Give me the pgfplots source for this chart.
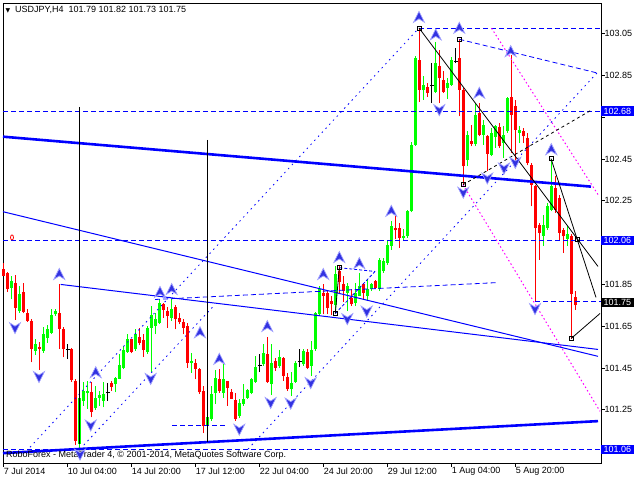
\documentclass[border=0pt]{standalone}
\usepackage{pgfplots}
\pgfplotsset{compat=1.18}
\usepackage{pgfplotstable}
\usepackage{fontspec}
\setmainfont{Liberation Sans}
\newfontfamily\dejavu{DejaVu Sans}
\definecolor{mtgreen}{RGB}{0,255,0}
\definecolor{mtred}{RGB}{255,0,0}
\definecolor{mtblue}{RGB}{0,0,255}
\definecolor{mtmag}{RGB}{255,0,255}
\definecolor{arrfill}{RGB}{50,50,225}
\definecolor{arrdraw}{RGB}{160,160,255}
\pgfdeclareplotmark{uparr}{%
 \pgfpathmoveto{\pgfqpoint{0pt}{6pt}}%
 \pgfpathlineto{\pgfqpoint{5.5pt}{-5pt}}%
 \pgfpathlineto{\pgfqpoint{0pt}{-1.5pt}}%
 \pgfpathlineto{\pgfqpoint{-5.5pt}{-5pt}}%
 \pgfpathclose\pgfusepathqfillstroke}
\pgfdeclareplotmark{dnarr}{%
 \pgfpathmoveto{\pgfqpoint{0pt}{-6pt}}%
 \pgfpathlineto{\pgfqpoint{5.5pt}{5pt}}%
 \pgfpathlineto{\pgfqpoint{0pt}{1.5pt}}%
 \pgfpathlineto{\pgfqpoint{-5.5pt}{5pt}}%
 \pgfpathclose\pgfusepathqfillstroke}

% red (bearish) candles: x low high close open
\pgfplotstableread{
x l h lo hi
0 101.890 101.954 101.890 101.922
1 101.814 101.910 101.830 101.906
3 101.680 101.893 101.739 101.858
5 101.712 101.858 101.718 101.814
6 101.671 101.731 101.675 101.712
7 101.477 101.683 101.540 101.675
9 101.442 101.575 101.540 101.553
14 101.540 101.850 101.639 101.712
15 101.501 101.644 101.540 101.636
17 101.385 101.548 101.394 101.543
18 101.082 101.397 101.103 101.388
22 101.214 101.381 101.241 101.334
27 101.340 101.388 101.361 101.377
32 101.520 101.590 101.527 101.587
34 101.559 101.643 101.571 101.600
35 101.505 101.611 101.536 101.583
40 101.691 101.762 101.727 101.754
41 101.643 101.743 101.699 101.723
43 101.635 101.750 101.683 101.743
44 101.659 101.715 101.670 101.691
45 101.611 101.683 101.643 101.670
46 101.452 101.664 101.476 101.651
48 101.396 101.492 101.447 101.473
49 101.325 101.452 101.333 101.444
50 101.138 101.364 101.173 101.340
54 101.332 101.444 101.340 101.396
56 101.269 101.390 101.356 101.388
57 101.301 101.348 101.304 101.336
58 101.197 101.332 101.205 101.297
66 101.380 101.600 101.383 101.516
68 101.436 101.500 101.452 101.484
70 101.388 101.504 101.412 101.500
71 101.340 101.425 101.348 101.407
76 101.444 101.539 101.452 101.527
80 101.707 101.850 101.797 101.810
81 101.707 101.818 101.738 101.810
82 101.702 101.794 101.754 101.770
84 101.810 101.937 101.861 101.914
85 101.766 101.890 101.818 101.850
87 101.746 101.826 101.754 101.786
90 101.778 101.858 101.810 101.850
93 101.826 101.871 101.834 101.866
98 102.065 102.176 102.109 102.120
99 102.025 102.144 102.073 102.120
104 102.725 103.076 102.781 102.924
106 102.749 102.813 102.768 102.794
109 102.717 102.972 102.837 102.896
110 102.765 102.869 102.773 102.829
114 102.654 103.023 102.781 102.932
115 102.327 102.789 102.415 102.781
117 102.511 102.614 102.523 102.534
119 102.558 102.717 102.566 102.670
121 102.391 102.566 102.476 102.558
124 102.503 102.622 102.511 102.603
127 102.479 102.948 102.662 102.749
128 102.415 102.733 102.590 102.705
130 102.526 102.598 102.558 102.582
131 102.420 102.574 102.431 102.550
132 102.224 102.431 102.327 102.423
133 101.770 102.327 102.120 102.319
134 101.969 102.144 102.097 102.136
138 102.192 102.367 102.208 102.311
139 102.057 102.280 102.097 102.264
140 102.000 102.120 102.080 102.110
142 101.590 102.090 101.802 102.081
143 101.730 101.820 101.750 101.790
}\redtab

% green (bullish) candles: x low high open close
\pgfplotstableread{
x l h lo hi
2 101.779 101.890 101.834 101.866
4 101.715 101.842 101.723 101.803
8 101.512 101.588 101.532 101.563
10 101.524 101.644 101.532 101.612
11 101.572 101.655 101.596 101.636
12 101.612 101.731 101.620 101.702
13 101.699 101.731 101.707 101.723
19 101.063 101.342 101.087 101.305
20 101.270 101.381 101.294 101.342
21 101.254 101.389 101.330 101.342
23 101.251 101.365 101.257 101.305
24 101.270 101.342 101.307 101.320
25 101.262 101.385 101.294 101.326
28 101.333 101.409 101.372 101.404
29 101.396 101.516 101.399 101.463
30 101.444 101.555 101.452 101.536
31 101.524 101.611 101.527 101.590
33 101.532 101.635 101.540 101.611
36 101.516 101.651 101.527 101.643
37 101.431 101.747 101.643 101.702
38 101.611 101.715 101.651 101.683
39 101.659 101.781 101.667 101.759
42 101.675 101.781 101.691 101.734
47 101.428 101.524 101.473 101.484
51 101.094 101.240 101.173 101.218
52 101.197 101.364 101.205 101.325
53 101.277 101.441 101.332 101.404
55 101.309 101.468 101.332 101.399
59 101.213 101.304 101.221 101.282
60 101.269 101.372 101.277 101.304
61 101.301 101.348 101.309 101.345
62 101.324 101.404 101.332 101.396
63 101.380 101.508 101.383 101.457
65 101.460 101.563 101.468 101.523
67 101.320 101.563 101.372 101.476
69 101.452 101.536 101.460 101.504
72 101.316 101.431 101.348 101.380
73 101.380 101.484 101.383 101.476
75 101.460 101.539 101.468 101.531
77 101.412 101.579 101.460 101.536
78 101.531 101.718 101.539 101.711
79 101.699 101.842 101.707 101.826
83 101.711 101.937 101.750 101.902
86 101.722 101.858 101.810 101.842
88 101.746 101.858 101.762 101.810
89 101.794 101.906 101.797 101.842
91 101.770 101.877 101.797 101.829
92 101.818 101.858 101.826 101.850
94 101.818 101.977 101.826 101.969
95 101.906 101.977 101.914 101.961
96 101.945 102.057 101.953 102.041
97 102.017 102.152 102.033 102.128
100 102.057 102.113 102.073 102.081
101 102.073 102.208 102.081 102.200
102 102.195 102.530 102.200 102.518
103 102.514 102.943 102.518 102.932
105 102.733 102.845 102.778 102.805
108 102.765 103.012 102.773 102.909
111 102.737 102.837 102.789 102.816
112 102.800 102.937 102.805 102.924
116 102.415 102.582 102.447 102.566
118 102.511 102.717 102.523 102.662
120 102.519 102.638 102.566 102.614
122 102.463 102.598 102.471 102.574
123 102.503 102.614 102.555 102.606
125 102.455 102.606 102.526 102.566
126 102.574 102.749 102.582 102.741
129 102.526 102.606 102.574 102.590
135 102.033 102.184 102.084 102.136
136 102.112 102.240 102.120 102.224
137 102.200 102.450 102.208 102.319
141 102.033 102.128 102.068 102.089
}\greentab

% doji candles: x low high close
\pgfplotstableread{
x l h c
16 101.493 101.564 101.540
26 101.294 101.378 101.334
64 101.431 101.516 101.460
74 101.457 101.543 101.479
107 102.717 102.909 102.800
113 102.909 102.980 102.916
}\dojitab

\pgfplotstableread{
x y
13.9 101.898
23.0 101.428
39.075 101.812
42.0 101.826
49.075 101.619
53.9 101.492
65.9 101.649
79.9 101.898
83.9 101.979
88.9 101.950
96.9 102.200
103.825 103.128
108.0 103.044
113.9 103.076
118.9 102.765
126.75 102.964
136.9 102.495
}\uptab

\pgfplotstableread{
x y
2.825 101.643
8.825 101.409
19.075 101.038
21.75 101.177
36.75 101.400
58.9 101.157
66.75 101.285
71.75 101.282
76.75 101.380
85.9 101.686
90.75 101.722
108.9 102.686
114.9 102.291
120.9 102.359
125.075 102.407
127.9 102.434
132.825 101.734
}\dntab

\begin{document}
\begin{tikzpicture}
\path[use as bounding box] (0,0) rectangle (640pt,480pt);
\begin{axis}[
  at={(3pt,17pt)}, anchor=south west,
  scale only axis, width=598pt, height=460pt,
  xmin=-0.175, xmax=149.325, ymin=100.9956, ymax=103.1966,
  clip=false,
  axis line style={black, line width=0.8pt},
  tick label style={font=\fontsize{9}{10}\selectfont},
  xtick={0,16,32,48,64,80,96,112,128},
  xticklabels={7 Jul 2014,10 Jul 04:00,14 Jul 20:00,17 Jul 12:00,22 Jul 04:00,24 Jul 20:00,29 Jul 12:00,1 Aug 04:00,5 Aug 20:00},
  ytick={101.05,101.25,101.45,101.65,101.85,102.05,102.25,102.45,102.65,102.85,103.05},
  yticklabels={,101.25,101.45,101.65,101.85,,102.25,102.45,,102.85,103.05},
  xtick pos=bottom, ytick pos=right, yticklabel pos=right,
  tick align=outside, major tick length=3.5pt,
  tick style={black, line width=0.8pt},
  xticklabel style={anchor=north west, inner sep=0pt, xshift=0pt, yshift=-1pt},
  yticklabel style={anchor=west, inner sep=0pt, xshift=0pt},
  candle/.style={only marks, mark=*, mark options={opacity=0}, forget plot},
]
% --- candles: wicks then bodies
\addplot[candle, error bars/.cd, y dir=plus, y explicit, error mark=none,
  error bar style={draw=mtgreen, line width=1pt}]
  table[x=x, y=l, y error plus expr=\thisrow{h}-\thisrow{l}] {\greentab};
\addplot[candle, error bars/.cd, y dir=plus, y explicit, error mark=none,
  error bar style={draw=mtgreen, line width=3pt}]
  table[x=x, y=lo, y error plus expr=\thisrow{hi}-\thisrow{lo}] {\greentab};
\addplot[candle, error bars/.cd, y dir=plus, y explicit, error mark=none,
  error bar style={draw=mtred, line width=1pt}]
  table[x=x, y=l, y error plus expr=\thisrow{h}-\thisrow{l}] {\redtab};
\addplot[candle, error bars/.cd, y dir=plus, y explicit, error mark=none,
  error bar style={draw=mtred, line width=3pt}]
  table[x=x, y=lo, y error plus expr=\thisrow{hi}-\thisrow{lo}] {\redtab};
\addplot[candle, error bars/.cd, y dir=plus, y explicit, error mark=none,
  error bar style={draw=black, line width=1pt}]
  table[x=x, y=l, y error plus expr=\thisrow{h}-\thisrow{l}] {\dojitab};
\addplot[only marks, mark=-, mark size=1.8pt, black, line width=1pt] table[x=x, y=c] {\dojitab};

% --- horizontal dashed lines
\addplot[mtblue, line width=0.8pt, dash pattern=on 5pt off 3pt] coordinates {(-0.175,102.68) (149.325,102.68)};
\addplot[mtblue, line width=0.8pt, dash pattern=on 5pt off 3pt] coordinates {(-0.175,102.06) (149.325,102.06)};
\addplot[mtblue, line width=0.8pt, dash pattern=on 5pt off 3pt] coordinates {(-0.175,101.06) (149.325,101.06)};
\addplot[mtblue, line width=0.8pt, dash pattern=on 5pt off 3pt] coordinates {(103.825,103.077) (149.0,103.077)};
\addplot[mtblue, line width=0.8pt, dash pattern=on 5pt off 3pt] coordinates {(132.825,101.77) (149.325,101.77)};
\addplot[mtblue, line width=0.8pt, dash pattern=on 5pt off 3pt] coordinates {(113.9,103.023) (148.325,102.862)};
\addplot[mtblue, line width=0.8pt, dash pattern=on 5pt off 3pt] coordinates {(37.825,101.778) (123.575,101.859)};
\addplot[mtblue, line width=0.8pt, dash pattern=on 5pt off 3pt] coordinates {(42.075,101.177) (55.825,101.177)};
\addplot[mtblue, line width=0.8pt, dash pattern=on 3pt off 2pt] coordinates {(83.9,101.930) (92.825,101.912)};
\addplot[mtblue, line width=0.8pt, dash pattern=on 3pt off 2pt] coordinates {(82.9,101.711) (92.825,101.912)};
% --- dotted channel lines
\addplot[mtblue, line width=0.8pt, dash pattern=on 1.5pt off 4pt] coordinates {(6.575,101.071) (103.825,103.077)};
\addplot[mtblue, line width=0.8pt, dash pattern=on 1.5pt off 4pt] coordinates {(19.075,101.062) (52.825,101.754)};
\addplot[mtblue, line width=0.8pt, dash pattern=on 1.5pt off 4pt] coordinates {(61.075,101.062) (148.325,102.862)};
% --- magenta dotted
\addplot[mtmag, line width=1pt, dash pattern=on 1.5pt off 2.5pt] coordinates {(121.95,103.076) (148.575,102.280)};
\addplot[mtmag, line width=1pt, dash pattern=on 1.5pt off 2.5pt] coordinates {(114.825,102.327) (149.075,101.243)};
% --- solid trend lines
\addplot[mtblue, line width=2.6pt] coordinates {(-0.175,102.557) (146.825,102.318)};
\addplot[mtblue, line width=2.6pt] coordinates {(-0.175,101.043) (148.575,101.196)};
\addplot[mtblue, line width=1pt] coordinates {(-0.175,102.198) (148.575,101.506)};
\addplot[mtblue, line width=1pt] coordinates {(14.25,101.850) (148.575,101.539)};
% --- vertical lines
\addplot[black, line width=1pt] coordinates {(18.825,102.700) (18.825,101.086)};
\addplot[black, line width=1pt] coordinates {(50.825,102.542) (50.825,101.095)};
% --- black lines
\addplot[black, line width=0.8pt, dash pattern=on 3pt off 3pt] coordinates {(114.825,102.327) (147.075,102.686)};
\addplot[black, line width=0.8pt] coordinates {(103.825,103.077) (148.575,101.936)};
\addplot[black, line width=0.8pt] coordinates {(136.825,102.452) (148.075,101.788)};
\addplot[black, line width=0.8pt] coordinates {(141.9,101.592) (149.075,101.711)};
\addplot[black, line width=0.8pt] coordinates {(82.9,101.711) (83.9,101.930)};
% --- squares
\addplot[only marks, mark=square, mark size=2pt, black, line width=0.8pt] coordinates {
 (103.825,103.077) (113.9,103.023) (114.825,102.327) (136.825,102.452)
 (143.325,102.065) (141.9,101.592) (83.9,101.930) (82.9,101.711)};
\addplot[only marks, mark=o, mark size=2.5pt, mtred, line width=0.8pt, mark options={xscale=0.6}] coordinates {(2.075,102.075)};
% --- fractal arrows
\addplot[only marks, mark=uparr, mark options={fill=arrfill, draw=arrdraw, line width=0.7pt}] table[x=x,y=y] {\uptab};
\addplot[only marks, mark=dnarr, mark options={fill=arrfill, draw=arrdraw, line width=0.7pt}] table[x=x,y=y] {\dntab};

% --- price labels
\node[fill=mtblue, text=white, anchor=west, inner xsep=2.5pt, inner ysep=1.5pt, font=\fontsize{9}{10}\selectfont] at (axis cs:149.325,102.68) {102.68};
\node[fill=mtblue, text=white, anchor=west, inner xsep=2.5pt, inner ysep=1.5pt, font=\fontsize{9}{10}\selectfont] at (axis cs:149.325,102.06) {102.06};
\node[fill=black, text=white, anchor=west, inner xsep=2.5pt, inner ysep=1.5pt, font=\fontsize{9}{10}\selectfont] at (axis cs:149.325,101.765) {101.75};
\node[fill=mtblue, text=white, anchor=west, inner xsep=2.5pt, inner ysep=1.5pt, font=\fontsize{9}{10}\selectfont] at (axis cs:149.325,101.06) {101.06};
% --- texts
\node[anchor=west, inner sep=0pt, font=\fontsize{9}{10}\selectfont] at (axis description cs:0.004,0.985) {{\dejavu\fontsize{6}{7}\selectfont ▼}\ \ USDJPY,H4\ \ 101.79 101.82 101.73 101.75};
\node[anchor=west, inner sep=0pt, font=\fontsize{9}{10}\selectfont] at (axis description cs:0.005,0.017) {RoboForex - MetaTrader 4, © 2001-2014, MetaQuotes Software Corp.};
\end{axis}
\end{tikzpicture}
\end{document}
